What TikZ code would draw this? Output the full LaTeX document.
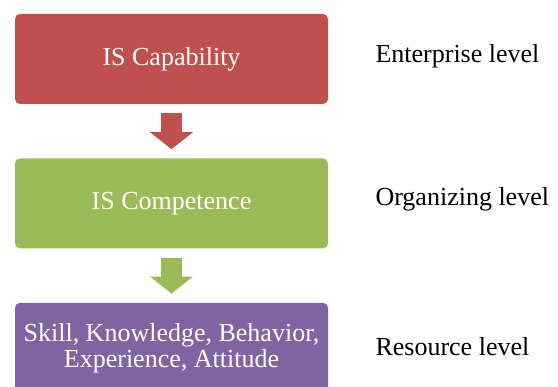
\documentclass[tikz,border=0pt]{standalone}
\usepackage{fontspec}
\setmainfont{Liberation Serif}
\usetikzlibrary{positioning,arrows.meta}
\definecolor{capred}{HTML}{C0504D}
\definecolor{compgreen}{HTML}{9BBB59}
\definecolor{respurple}{HTML}{8064A2}

\begin{document}
\begin{tikzpicture}[x=1pt,y=1pt,
    box/.style={rounded corners=5pt, minimum width=313pt, minimum height=90pt,
      inner sep=0pt, text=white, align=center, font=\fontsize{26}{26}\selectfont},
    lvl/.style={anchor=base west, font=\fontsize{26}{26}\selectfont},
    downarrow/.style={line width=21pt, shorten <=9pt, shorten >=9pt,
      -{Triangle[length=17pt,width=43pt,line width=0pt]}}]
    % \draw[step=10pt] (0,0) grid (558,-387);
    \clip (0,0) rectangle (558,-387);

    \node[box, fill=capred] (cap) at (171.5,-59) {IS Capability};
    \node[box, fill=compgreen, below=54pt of cap] (comp) {IS Competence};
    \node[box, fill=respurple, below=54pt of comp] (res)
      {\raisebox{-3pt}{\parbox{313pt}{\centering Skill, Knowledge, Behavior,\\Experience, Attitude}}};

    \draw[downarrow, capred] (cap) -- (comp);
    \draw[downarrow, compgreen] (comp) -- (res);

    \node[lvl] (enterprise) at (372,-63) {Enterprise level};
    \node[lvl] (organizing) at (372,-206) {Organizing level};
    \node[lvl] (resource) at (372,-356) {Resource level};
  \end{tikzpicture}
\end{document}
